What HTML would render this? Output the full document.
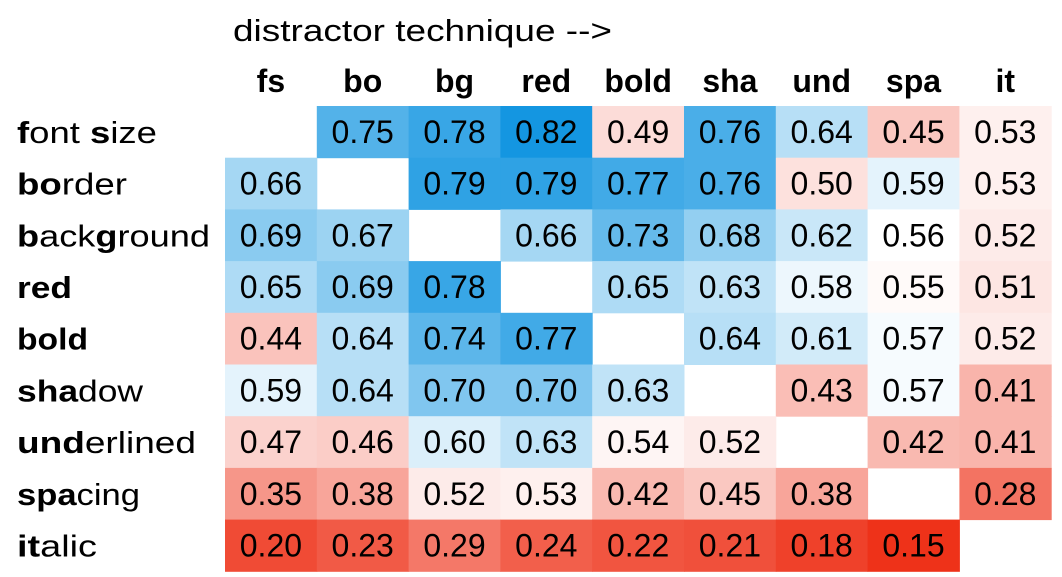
<!DOCTYPE html>
<html><head><meta charset="utf-8"><style>
html,body{margin:0;padding:0;background:#fff;}
svg{display:block;font-family:"Liberation Sans",sans-serif;}
</style></head><body>
<svg id="chart" width="1062" height="577" viewBox="0 0 1062 577">
<text x="233" y="41" font-size="31" textLength="379" lengthAdjust="spacingAndGlyphs" fill="#000">distractor technique --&gt;</text>
<g id="cols"></g><g id="rows"></g><g id="cells"></g>
</svg>
<script>
const colLabels = ["fs","bo","bg","red","bold","sha","und","spa","it"];
const rowBold = ["f","bo","b","red","bold","sha","und","spa","it"];
const rowRest = ["ont |s|ize","rder","ack|g|round","","","dow","erlined","cing","alic"];
const rowWidths = [140,110,193,55,71,126,179,123,80];
const values = [
 [null,0.75,0.78,0.82,0.49,0.76,0.64,0.45,0.53],
 [0.66,null,0.79,0.79,0.77,0.76,0.50,0.59,0.53],
 [0.69,0.67,null,0.66,0.73,0.68,0.62,0.56,0.52],
 [0.65,0.69,0.78,null,0.65,0.63,0.58,0.55,0.51],
 [0.44,0.64,0.74,0.77,null,0.64,0.61,0.57,0.52],
 [0.59,0.64,0.70,0.70,0.63,null,0.43,0.57,0.41],
 [0.47,0.46,0.60,0.63,0.54,0.52,null,0.42,0.41],
 [0.35,0.38,0.52,0.53,0.42,0.45,0.38,null,0.28],
 [0.20,0.23,0.29,0.24,0.22,0.21,0.18,0.15,null]
];
const NS="http://www.w3.org/2000/svg";
const x0=225,y0=106,cw=91.8,ch=51.7;
const xPos=i=>x0+i*cw, yPos=j=>y0+j*ch;
function color(v){
  const mid=0.56;
  if(v>=mid){const t=Math.min(1,(v-mid)/(0.82-mid));return `rgb(${Math.round(255-t*235)},${Math.round(255-t*105)},${Math.round(255-t*30)})`;}
  const t=Math.min(1,(mid-v)/(mid-0.15));return `rgb(${Math.round(255-t*17)},${Math.round(255-t*205)},${Math.round(255-t*230)})`;
}
const cols=document.getElementById('cols'),rows=document.getElementById('rows'),cells=document.getElementById('cells');
colLabels.forEach((c,i)=>{
  const t=document.createElementNS(NS,'text');
  t.setAttribute('x',xPos(i)+cw/2);t.setAttribute('y',92);t.setAttribute('text-anchor','middle');
  t.setAttribute('font-size','32');t.setAttribute('font-weight','bold');t.textContent=c;
  
  
  cols.appendChild(t);
});
rowBold.forEach((b,j)=>{
  const t=document.createElementNS(NS,'text');
  t.setAttribute('x',17);t.setAttribute('y',yPos(j)+ch/2+11);t.setAttribute('font-size','31');
  t.setAttribute('textLength',rowWidths[j]);t.setAttribute('lengthAdjust','spacingAndGlyphs');
  const parts=[b].concat(rowRest[j].split('|'));
  parts.forEach((p,k)=>{if(!p)return;const s=document.createElementNS(NS,'tspan');s.textContent=p;if(k%2===0)s.setAttribute('font-weight','bold');t.appendChild(s);});
  
  
  rows.appendChild(t);
});
values.forEach((row,j)=>row.forEach((v,i)=>{
  if(v===null)return;
  const r=document.createElementNS(NS,'rect');
  r.setAttribute('x',xPos(i));r.setAttribute('y',yPos(j));r.setAttribute('width',cw+0.5);r.setAttribute('height',ch+0.5);
  r.setAttribute('fill',color(v));
  
  
  cells.appendChild(r);
  const t=document.createElementNS(NS,'text');
  t.setAttribute('x',xPos(i)+cw/2);t.setAttribute('y',yPos(j)+ch/2+11);t.setAttribute('text-anchor','middle');
  t.setAttribute('font-size','32');t.textContent=v.toFixed(2);
  
  
  cells.appendChild(t);
}));
</script>
</body></html>
